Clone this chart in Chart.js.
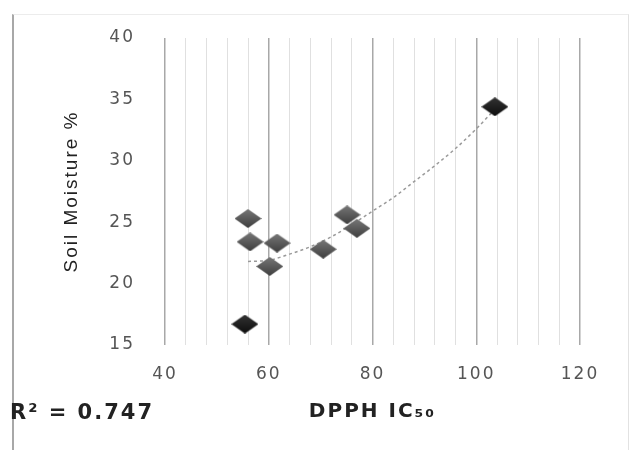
<!DOCTYPE html>
<html lang="en">
<head>
    <meta charset="UTF-8">
    <title>Soil Moisture vs DPPH IC50</title>
    <script src="https://cdn.jsdelivr.net/npm/chart.js"></script>
    <style>
        body {
            margin: 0;
            padding: 0;
            background: #ffffff;
        }
        .frame {
            position: absolute;
            left: 12px;
            top: 14px;
            width: 614px;
            height: 440px;
            border-left: 2px solid #a8a8a8;
            border-top: 1px solid #ececec;
            border-right: 1px solid #e2e2e2;
        }
        .wrap {
            position: relative;
            width: 630px;
            height: 450px;
        }
    </style>
</head>
<body>
    <div class="frame"></div>
    <div class="wrap">
        <canvas id="moistureChart" width="630" height="450"></canvas>
    </div>

    <script>
        // Measured samples
        const ic50Values = [56.0, 56.4, 61.6, 60.2, 70.5, 75.1, 77.0, 55.4, 103.6];
        const moistureValues = [25.3, 23.4, 23.3, 21.4, 22.8, 25.6, 24.5, 16.7, 34.4];

        // Trend line (polynomial)
        const trendX = [56, 60, 64, 68, 72, 76, 80, 84, 88, 92, 96, 100, 103.6];
        const trendY = [21.8, 21.9, 22.4, 23.0, 23.8, 24.8, 25.9, 27.0, 28.3, 29.6, 31.0, 32.6, 34.2];

        const xTicks = [40, 60, 80, 100, 120];
        const yTicks = [15, 20, 25, 30, 35, 40];
        const rSquared = 'R² = 0.747';

        // Diamond marker drawn once on a small canvas
        function makeDiamond(dark, light) {
            const c = document.createElement('canvas');
            c.width = 27;
            c.height = 19;
            const g = c.getContext('2d');
            const grad = g.createLinearGradient(0, 0, 0, 19);
            grad.addColorStop(0, light);
            grad.addColorStop(1, dark);
            g.beginPath();
            g.moveTo(13.5, 0);
            g.lineTo(27, 9.5);
            g.lineTo(13.5, 19);
            g.lineTo(0, 9.5);
            g.closePath();
            g.fillStyle = grad;
            g.fill();
            return c;
        }
        const greyDiamond = makeDiamond('#3e3e3e', '#777777');
        const darkDiamond = makeDiamond('#0d0d0d', '#333333');

        const points = ic50Values.map((x, i) => ({ x: x, y: moistureValues[i] }));
        const trend = trendX.map((x, i) => ({ x: x, y: trendY[i] }));

        // wider letter spacing for the axis text, plus the R squared label
        const textStyle = {
            id: 'textStyle',
            beforeDraw(chart) {
                chart.ctx.letterSpacing = '2px';
            },
            afterDraw(chart) {
                const ctx = chart.ctx;
                ctx.save();
                ctx.letterSpacing = '2px';
                ctx.font = 'bold 21px "DejaVu Sans", sans-serif';
                ctx.fillStyle = '#222222';
                ctx.textBaseline = 'middle';
                ctx.textAlign = 'left';
                ctx.fillText(rSquared, 10, 414);
                ctx.restore();
                ctx.letterSpacing = '0px';
            }
        };

        new Chart(document.getElementById('moistureChart'), {
            type: 'scatter',
            data: {
                datasets: [
                    {
                        label: 'Trend',
                        data: trend,
                        showLine: true,
                        borderColor: '#9a9a9a',
                        borderWidth: 1.5,
                        borderDash: [3, 3],
                        cubicInterpolationMode: 'monotone',
                        pointRadius: 0,
                        order: 2
                    },
                    {
                        label: 'Soil Moisture',
                        data: points,
                        pointStyle: ctx => (ctx.raw && (ctx.raw.y < 18 || ctx.raw.y > 30)) ? darkDiamond : greyDiamond,
                        order: 1
                    }
                ]
            },
            options: {
                responsive: false,
                animation: false,
                layout: {
                    padding: { top: 38, left: 56, right: 50, bottom: 22 }
                },
                plugins: {
                    legend: { display: false },
                    tooltip: { enabled: false }
                },
                scales: {
                    x: {
                        type: 'linear',
                        min: 40,
                        max: 120,
                        afterFit: scale => { scale.height = 83; },
                        afterBuildTicks: scale => {
                            const t = [];
                            for (let v = 40; v <= 120; v += 4) t.push({ value: v });
                            scale.ticks = t;
                        },
                        border: { display: false },
                        grid: {
                            drawTicks: false,
                            color: ctx => xTicks.includes(ctx.tick.value) ? '#a8a8a8' : '#e0e0e0',
                            lineWidth: ctx => xTicks.includes(ctx.tick.value) ? 1.5 : 1
                        },
                        ticks: {
                            autoSkip: false,
                            maxRotation: 0,
                            padding: 19,
                            color: '#555555',
                            font: { family: '"DejaVu Sans", sans-serif', size: 17 },
                            callback: v => xTicks.includes(v) ? String(v) : ''
                        },
                        title: {
                            display: true,
                            text: 'DPPH IC₅₀',
                            color: '#222222',
                            font: { family: '"DejaVu Sans", sans-serif', size: 20, weight: 'bold' }
                        }
                    },
                    y: {
                        type: 'linear',
                        min: 15,
                        max: 40,
                        afterFit: scale => { scale.width = 109; },
                        afterBuildTicks: scale => {
                            scale.ticks = yTicks.map(v => ({ value: v }));
                        },
                        border: { display: false },
                        grid: { display: false },
                        ticks: {
                            padding: 22,
                            color: '#555555',
                            font: { family: '"DejaVu Sans", sans-serif', size: 17 }
                        },
                        title: {
                            display: true,
                            text: 'Soil Moisture %',
                            color: '#222222',
                            font: { family: '"Liberation Sans", sans-serif', size: 19 }
                        }
                    }
                }
            },
            plugins: [textStyle]
        });
    </script>
</body>
</html>
